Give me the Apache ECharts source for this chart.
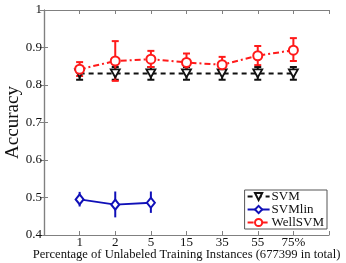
<!DOCTYPE html>
<html><head><meta charset="utf-8">
<script src="https://cdn.jsdelivr.net/npm/echarts@6/dist/echarts.min.js"></script>
<style>html,body{margin:0;padding:0;background:#fff}#c{width:346px;height:263px}</style>
</head><body><div id="c"></div>
<script>
const categories = ['1','2','5','15','35','55','75%'];
const yTicks = ['0.4','0.5','0.6','0.7','0.8','0.9','1'];
const svmMean = [0.831,0.831,0.831,0.831,0.831,0.831,0.831];
const svmLow  = [0.814,0.814,0.814,0.814,0.814,0.814,0.814];
const svmHigh = [0.848,0.848,0.848,0.848,0.848,0.848,0.848];
const linMean = [0.495,0.481,0.486];
const linLow  = [0.476,0.447,0.459];
const linHigh = [0.515,0.516,0.516];
const wellMean = [0.842,0.864,0.869,0.860,0.854,0.878,0.893];
const wellLow  = [0.824,0.811,0.848,0.838,0.834,0.853,0.864];
const wellHigh = [0.861,0.917,0.891,0.884,0.875,0.904,0.925];

const FONT = 'Liberation Serif';
const pts = (m) => m.map((v,i)=>[i+1,v]);
const errs = (lo,hi) => lo.map((v,i)=>[i+1,v,hi[i]]);

function errSeries(name, color, lo, hi, cap, z) {
  return {
    type:'custom', name: name+'_err', z: z, silent:true,
    data: errs(lo,hi),
    renderItem: function(params, api){
      const x = api.value(0);
      const p1 = api.coord([x, api.value(1)]);
      const p2 = api.coord([x, api.value(2)]);
      const st = {stroke: color, lineWidth: 2};
      const ch = [{type:'line', shape:{x1:p1[0],y1:p1[1],x2:p2[0],y2:p2[1]}, style: st}];
      if (cap>0) {
        ch.push({type:'line', shape:{x1:p1[0]-cap,y1:p1[1],x2:p1[0]+cap,y2:p1[1]}, style: st});
        ch.push({type:'line', shape:{x1:p2[0]-cap,y1:p2[1],x2:p2[0]+cap,y2:p2[1]}, style: st});
      }
      return {type:'group', children: ch};
    }
  };
}

const chart = echarts.init(document.getElementById('c'), null, {renderer:'canvas'});
const axisCommon = {
  axisLine:{show:true, lineStyle:{color:'#808080', width:1.2}},
  axisTick:{show:true, inside:true, length:4, lineStyle:{color:'#808080'}},
  splitLine:{show:false}
};
chart.setOption({
  animation:false,
  backgroundColor:'#fff',
  grid:{left:44, right:17, top:10, bottom:28, containLabel:false, outerBoundsMode:'none'},
  legend:{
    right:19, bottom:34, orient:'vertical',
    data:['SVM','SVMlin','WellSVM'],
    backgroundColor:'#fff', borderColor:'#555', borderWidth:1, borderRadius:0,
    padding:[0,3,0,2], itemGap:0, itemWidth:22, itemHeight:9,
    textStyle:{fontFamily:FONT, fontSize:13, color:'#111', padding:[0,0,0,-3]}
  },
  xAxis:[
    Object.assign({type:'value', min:0, max:8, interval:1, position:'bottom',
      axisLabel:{fontFamily:FONT, fontSize:13, color:'#111', margin:1,
        formatter:(v)=> (v>=1 && v<=categories.length) ? categories[v-1] : ''},
      name:'Percentage of Unlabeled Training Instances (677399 in total)',
      nameLocation:'middle', nameGap:13, nameMoveOverlap:false,
      nameTextStyle:{fontFamily:FONT, fontSize:12.6, color:'#111'}
    }, axisCommon),
    Object.assign({type:'value', min:0, max:8, interval:1, position:'top', axisLabel:{show:false}}, axisCommon)
  ],
  yAxis:[
    Object.assign({type:'value', min:0.4, max:1.0, interval:0.1, position:'left',
      axisLabel:{fontFamily:FONT, fontSize:13, color:'#111', margin:2,
        formatter:(v)=> yTicks[Math.round((v-0.4)*10)]},
      name:'Accuracy', nameLocation:'middle', nameGap:21, nameRotate:90, nameMoveOverlap:false,
      nameTextStyle:{fontFamily:FONT, fontSize:19, color:'#111'}
    }, axisCommon),
    Object.assign({type:'value', min:0.4, max:1.0, interval:0.1, position:'right', axisLabel:{show:false}}, axisCommon)
  ],
  series:[
    errSeries('SVM', '#111', svmLow, svmHigh, 3.5, 2),
    errSeries('SVMlin', '#1010b8', linLow, linHigh, 0, 2),
    errSeries('WellSVM', '#ff1a1a', wellLow, wellHigh, 3.5, 3),
    {type:'line', name:'SVM', data: pts(svmMean), z:4,
      symbol:'path://M0,0 L10,0 L5,9 Z', symbolSize:[9,8],
      lineStyle:{color:'#111', width:2, type:[5,4]},
      itemStyle:{color:'#fff', borderColor:'#111', borderWidth:1.8}},
    {type:'line', name:'SVMlin', data: pts(linMean), z:4,
      symbol:'diamond', symbolSize:[8,10],
      lineStyle:{color:'#1010b8', width:2},
      itemStyle:{color:'#fff', borderColor:'#1010b8', borderWidth:2}},
    {type:'line', name:'WellSVM', data: pts(wellMean), z:5,
      symbol:'circle', symbolSize:9,
      lineStyle:{color:'#ff1a1a', width:2, type:[6,3,2,3]},
      itemStyle:{color:'#fff', borderColor:'#ff1a1a', borderWidth:2}}
  ]
});
</script></body></html>
